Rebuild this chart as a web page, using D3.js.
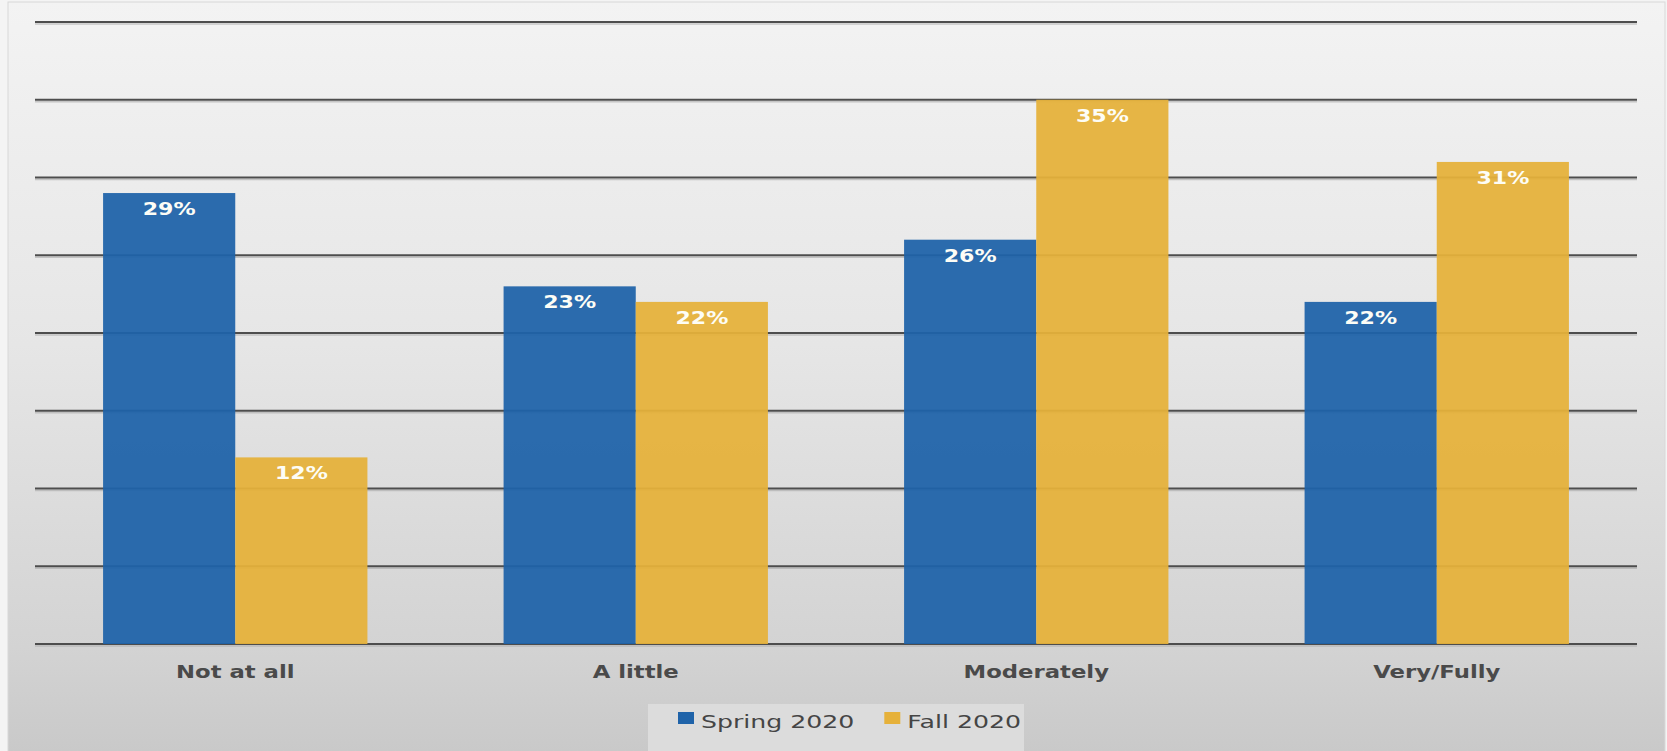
<!DOCTYPE html>
<html>
<head>
<meta charset="utf-8">
<script src="https://cdn.jsdelivr.net/npm/d3@7"></script>
<style>
  html, body { margin: 0; padding: 0; background: #f4f4f4; }
  svg { display: block; }
</style>
</head>
<body>
<svg id="chart" width="1667" height="751"></svg>
<script>
// ---- data ----
const categories = ["Not at all", "A little", "Moderately", "Very/Fully"];
const seriesNames = ["Spring 2020", "Fall 2020"];
const spring2020 = [29, 23, 26, 22];
const fall2020 = [12, 22, 35, 31];
const yTicks = [0, 5, 10, 15, 20, 25, 30, 35, 40];

const seriesValues = [spring2020, fall2020];
const colors = ["#1f63a9", "#e6b13a"];

const W = 1667, H = 751;
const svg = d3.select("#chart");
const defs = svg.append("defs");

// panel gradient
const grad = defs.append("linearGradient").attr("id", "bg")
  .attr("x1", 0).attr("y1", 0).attr("x2", 0).attr("y2", 1);
grad.append("stop").attr("offset", "0%").attr("stop-color", "#f3f3f3");
grad.append("stop").attr("offset", "45%").attr("stop-color", "#e6e6e6");
grad.append("stop").attr("offset", "85%").attr("stop-color", "#d3d3d3");
grad.append("stop").attr("offset", "100%").attr("stop-color", "#c8c8c8");

svg.append("rect").attr("x", 0).attr("y", 0).attr("width", W).attr("height", H).attr("fill", "#f4f4f4");
svg.append("rect").attr("x", 8).attr("y", 2).attr("width", 1657).attr("height", 760)
  .attr("fill", "url(#bg)").attr("stroke", "#d8d8d8").attr("stroke-width", 1);

const margin = { left: 35, right: 1637, top: 22, bottom: 644 };

const y = d3.scaleLinear().domain([0, 40]).range([margin.bottom, margin.top]);
const x0 = d3.scaleBand().domain(categories).range([margin.left, margin.right])
  .paddingInner(0.34).paddingOuter(0.17);
const x1 = d3.scaleBand().domain(seriesNames).range([0, x0.bandwidth()]).padding(0);

// gridlines (with soft shadow)
const grid = svg.append("g");
grid.selectAll("line.shadow").data(yTicks).join("line")
  .attr("class", "shadow")
  .attr("x1", margin.left).attr("x2", margin.right)
  .attr("y1", d => y(d) + 2).attr("y2", d => y(d) + 2)
  .attr("stroke", "#a8a8a8").attr("stroke-opacity", 0.6).attr("stroke-width", 1.5);
grid.selectAll("line.main").data(yTicks).join("line")
  .attr("class", "main")
  .attr("x1", margin.left).attr("x2", margin.right)
  .attr("y1", d => y(d)).attr("y2", d => y(d))
  .attr("stroke", "#4d4d4d").attr("stroke-width", 2);

// bars
const groups = svg.append("g").selectAll("g").data(categories).join("g")
  .attr("transform", d => `translate(${x0(d)},0)`);

groups.selectAll("rect").data((c, i) => seriesNames.map((s, k) => ({ s, k, v: seriesValues[k][i] })))
  .join("rect")
  .attr("x", d => x1(d.s))
  .attr("y", d => y(d.v))
  .attr("width", x1.bandwidth())
  .attr("height", d => y(0) - y(d.v))
  .attr("fill", d => colors[d.k])
  .attr("fill-opacity", 0.94);

const SX = 1.3;
// value labels
groups.selectAll("text").data((c, i) => seriesNames.map((s, k) => ({ s, k, v: seriesValues[k][i] })))
  .join("text")
  .attr("transform", d => `translate(${x1(d.s) + x1.bandwidth() / 2},${y(d.v) + 22}) scale(${SX},1)`)
  .attr("text-anchor", "middle")
  .attr("font-family", "DejaVu Sans, Verdana, sans-serif")
  .attr("font-weight", "bold")
  .attr("font-size", 17)
  .attr("fill", "#fdfdf6")
  .text(d => d.v + "%");

// category axis labels
svg.append("g").selectAll("text").data(categories).join("text")
  .attr("transform", d => `translate(${x0(d) + x0.bandwidth() / 2},678) scale(${SX},1)`)
  .attr("text-anchor", "middle")
  .attr("font-family", "DejaVu Sans, Verdana, sans-serif")
  .attr("font-weight", "bold")
  .attr("font-size", 17.5)
  .attr("fill", "#4a4a4a")
  .text(d => d);

// legend
const LSX = 1.4;
const legend = svg.append("g");
legend.append("rect").attr("x", 648).attr("y", 704).attr("width", 376).attr("height", 60)
  .attr("fill", "#dcdcdc");
let lx = 678;
seriesNames.forEach((name, k) => {
  legend.append("rect").attr("x", lx).attr("y", 712).attr("width", 16).attr("height", 12)
    .attr("fill", colors[k]);
  const t = legend.append("text")
    .attr("transform", `translate(${lx + 23},728) scale(${LSX},1)`)
    .attr("font-family", "DejaVu Sans, Verdana, sans-serif")
    .attr("font-size", 18)
    .attr("fill", "#454545")
    .text(name);
  const w = t.node().getComputedTextLength() * LSX;
  lx = lx + 23 + w + 30;
});
</script>
</body>
</html>
